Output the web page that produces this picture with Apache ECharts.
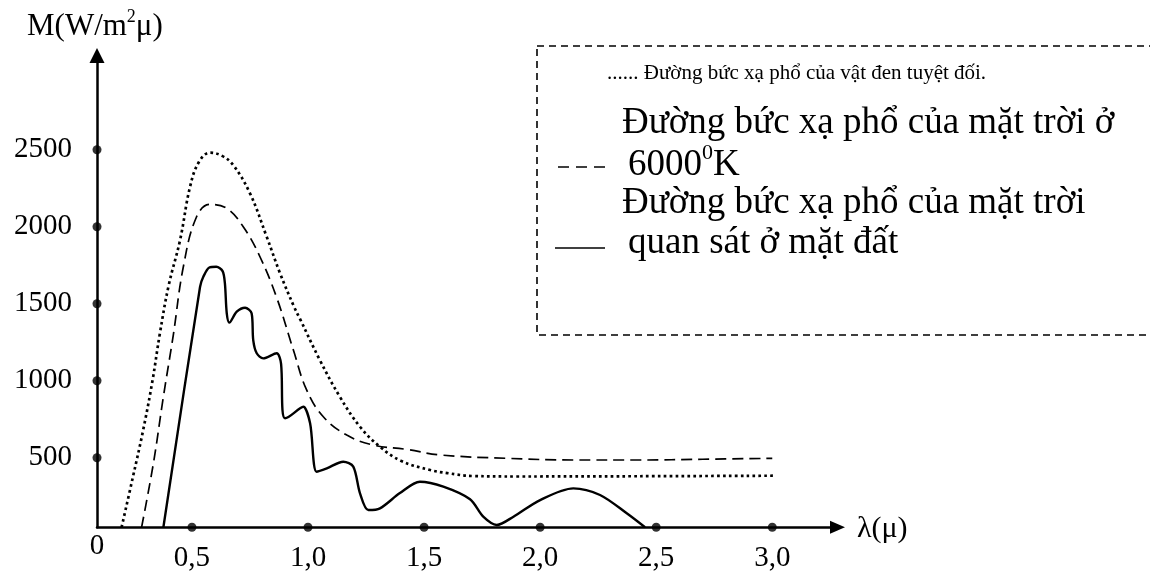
<!DOCTYPE html>
<html>
<head>
<meta charset="utf-8">
<script src="https://cdn.jsdelivr.net/npm/echarts@6/dist/echarts.min.js"></script>
<style>
  html, body { margin: 0; padding: 0; background: #fff; }
  #chart { width: 1150px; height: 576px; }
</style>
</head>
<body>
<div id="chart"></div>
<script>
// Wavelength ticks (μ) and radiance ticks (W/m²μ)
const xTicks = [0.5, 1.0, 1.5, 2.0, 2.5, 3.0];
const yTicks = [500, 1000, 1500, 2000, 2500];

// Black-body spectral radiance curve [λ, M]
const blackBody = [
  [0.197, 48], [0.245, 370], [0.29, 680], [0.33, 1000], [0.362, 1308], [0.40, 1620],
  [0.449, 1914], [0.492, 2260], [0.53, 2420], [0.578, 2481], [0.63, 2460], [0.678, 2400],
  [0.75, 2217], [0.822, 1935], [0.879, 1700], [0.94, 1480], [0.966, 1400], [1.051, 1134],
  [1.137, 896], [1.224, 701], [1.31, 571], [1.40, 480], [1.526, 420], [1.6, 400],
  [1.712, 381], [1.9, 378], [2.5, 380], [3.008, 383]
];

// Solar spectrum at 6000 K [λ, M]
const sun6000 = [
  [0.283, 48], [0.334, 464], [0.377, 896], [0.42, 1300], [0.463, 1740], [0.52, 2065],
  [0.578, 2145], [0.65, 2119], [0.721, 2000], [0.793, 1805], [0.865, 1540], [0.937, 1199],
  [0.994, 940], [1.066, 766], [1.167, 647], [1.281, 582], [1.425, 554], [1.569, 518],
  [1.856, 496], [2.143, 485], [2.43, 485], [2.7, 490], [3.0, 496]
];

// Solar spectrum observed at ground level [λ, M]
const ground = [
  [0.377, 48], [0.535, 1610], [0.549, 1675], [0.575, 1735], [0.605, 1740], [0.632, 1712],
  [0.642, 1632], [0.650, 1438], [0.661, 1377], [0.693, 1448], [0.729, 1474], [0.757, 1438],
  [0.764, 1264], [0.779, 1178], [0.807, 1145], [0.865, 1178], [0.884, 1110], [0.89, 810],
  [0.901, 756], [0.966, 821], [0.98, 831], [1.009, 723], [1.037, 409], [1.081, 431],
  [1.152, 474], [1.195, 442], [1.224, 269], [1.26, 160], [1.31, 171], [1.396, 270],
  [1.482, 344], [1.583, 312], [1.698, 230], [1.755, 117], [1.813, 63], [1.885, 117],
  [2.0, 225], [2.143, 301], [2.258, 258], [2.373, 139], [2.452, 48]
];

const X_MIN = 0.091, X_MAX = 3.281, Y_MIN = 48, Y_MAX = 3112;
const serif = '"Liberation Serif", "Times New Roman", serif';

const chart = echarts.init(document.getElementById('chart'), null, { renderer: 'canvas' });

// Round markers sitting on both axes at each labelled value
const xDots = xTicks.map(v => [v, Y_MIN]);
const yDots = yTicks.map(v => [X_MIN, v]);

chart.setOption({
  animation: false,
  backgroundColor: '#fff',
  grid: { left: 97, right: 312.5, top: 55.5, bottom: 48.7, containLabel: false },
  xAxis: {
    type: 'value', min: X_MIN, max: X_MAX,
    axisLine: { show: true, lineStyle: { color: '#000', width: 2.5 },
      symbol: ['none', 'triangle'], symbolSize: [13, 15] },
    axisTick: { show: false },
    splitLine: { show: false },
    axisLabel: {
      customValues: xTicks, color: '#000', fontFamily: serif, fontSize: 29, margin: 17,
      formatter: v => v.toFixed(1).replace('.', ',')
    }
  },
  yAxis: {
    type: 'value', min: Y_MIN, max: Y_MAX,
    axisLine: { show: true, lineStyle: { color: '#000', width: 2.5 },
      symbol: ['none', 'triangle'], symbolSize: [15, 15] },
    axisTick: { show: false },
    splitLine: { show: false },
    axisLabel: {
      customValues: yTicks, color: '#000', fontFamily: serif, fontSize: 29, margin: 25,
      formatter: v => String(v)
    }
  },
  series: [
    { type: 'line', data: blackBody, smooth: 0.4, symbol: 'none',
      lineStyle: { color: '#000', width: 2.7, type: [2.7, 3.2] } },
    { type: 'line', data: sun6000, smooth: 0.4, symbol: 'none',
      lineStyle: { color: '#000', width: 1.7, type: [11, 6] } },
    { type: 'line', data: ground, smooth: 0.3, symbol: 'none',
      lineStyle: { color: '#000', width: 2.4 } },
    { type: 'scatter', data: xDots.concat(yDots), symbol: 'circle', symbolSize: 9,
      clip: false, itemStyle: { color: '#000' }, z: 5 }
  ],
  graphic: [
    { type: 'text', x: 27, y: 25, style: {
        text: '{a|M(W/m}{s|2}{a|μ)}', fill: '#000', verticalAlign: 'middle',
        rich: {
          a: { fontFamily: serif, fontSize: 31, verticalAlign: 'bottom', lineHeight: 34 },
          s: { fontFamily: serif, fontSize: 18, verticalAlign: 'top', lineHeight: 34, padding: [0, 0, 13, 0] }
        } } },
    { type: 'text', x: 97, y: 546, style: {
        text: '0', fontFamily: serif, fontSize: 29, fill: '#000', align: 'center', verticalAlign: 'middle' } },
    { type: 'text', x: 857, y: 529, style: {
        text: 'λ(μ)', fontFamily: serif, fontSize: 30, fill: '#000', verticalAlign: 'middle' } },
    // Legend frame
    { type: 'rect', shape: { x: 537, y: 46, width: 640, height: 289 },
      style: { fill: 'none', stroke: '#000', lineWidth: 1.6, lineDash: [7, 5] } },
    { type: 'text', x: 607, y: 73, style: {
        text: '...... Đường bức xạ phổ của vật đen tuyệt đối.', fontFamily: serif, fontSize: 21,
        fill: '#000', verticalAlign: 'middle' } },
    { type: 'text', x: 622, y: 123, style: {
        text: 'Đường bức xạ phổ của mặt trời ở', fontFamily: serif, fontSize: 37,
        fill: '#000', verticalAlign: 'middle' } },
    { type: 'line', shape: { x1: 558, y1: 167, x2: 606, y2: 167 },
      style: { stroke: '#000', lineWidth: 1.6, lineDash: [11, 7] } },
    { type: 'text', x: 628, y: 163, style: {
        text: '{a|6000}{s|0}{a|K}', fill: '#000', verticalAlign: 'middle',
        rich: {
          a: { fontFamily: serif, fontSize: 37, verticalAlign: 'bottom', lineHeight: 42 },
          s: { fontFamily: serif, fontSize: 22, verticalAlign: 'top', lineHeight: 42, padding: [0, 0, 16, 0] }
        } } },
    { type: 'text', x: 622, y: 203, style: {
        text: 'Đường bức xạ phổ của mặt trời', fontFamily: serif, fontSize: 37,
        fill: '#000', verticalAlign: 'middle' } },
    { type: 'line', shape: { x1: 555, y1: 248, x2: 605, y2: 248 },
      style: { stroke: '#000', lineWidth: 1.6 } },
    { type: 'text', x: 628, y: 243, style: {
        text: 'quan sát ở mặt đất', fontFamily: serif, fontSize: 37,
        fill: '#000', verticalAlign: 'middle' } }
  ]
});
</script>
</body>
</html>
